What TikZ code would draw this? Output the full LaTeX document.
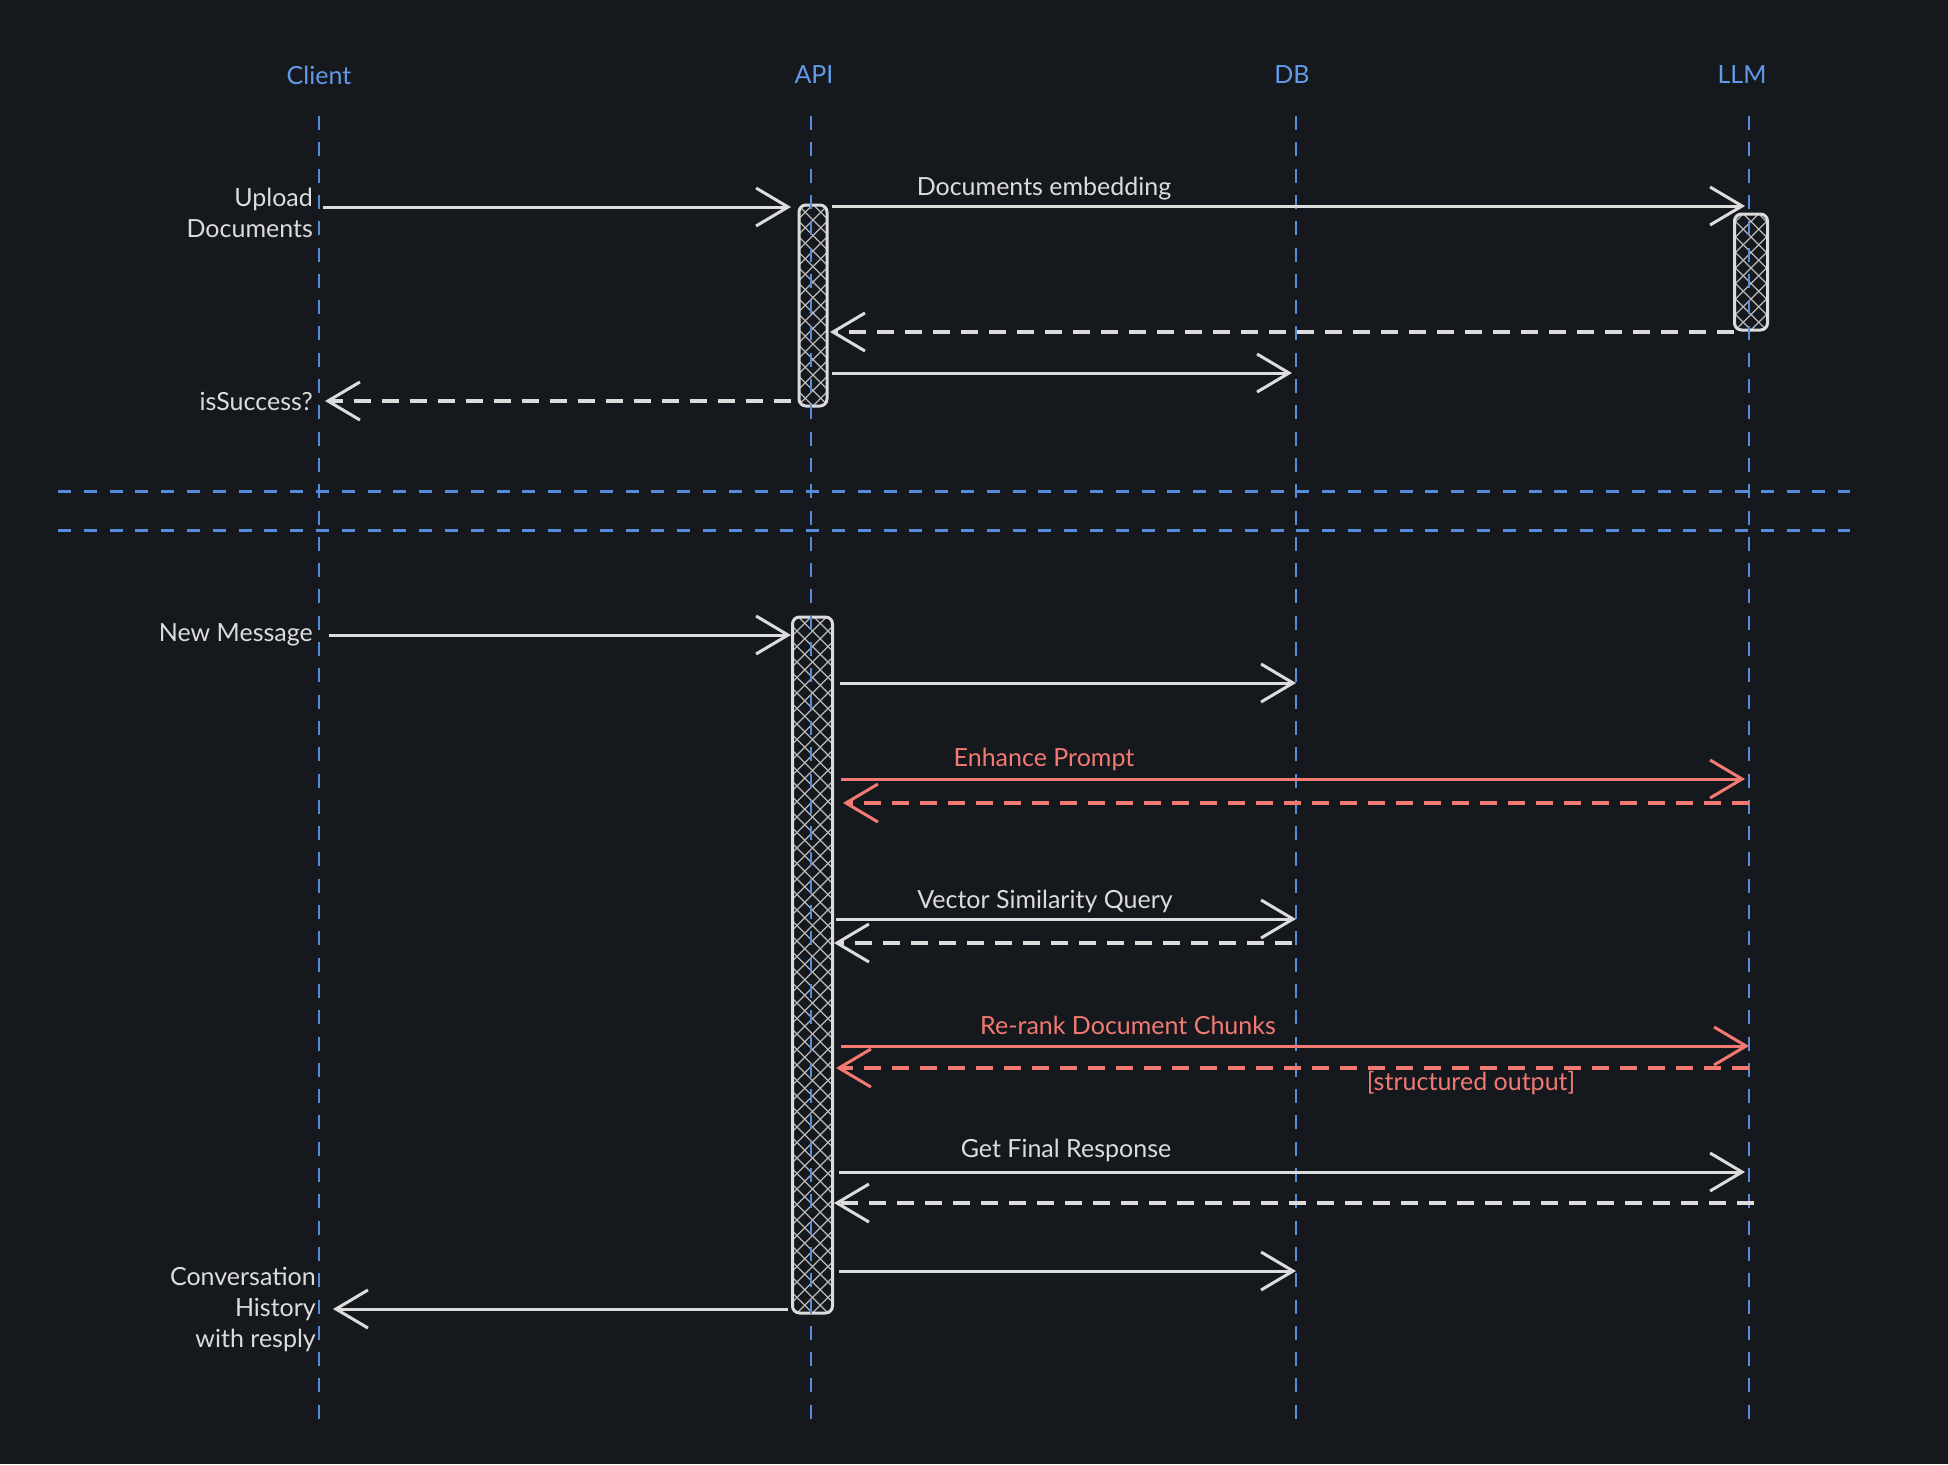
\documentclass[tikz,border=0pt]{standalone}
\usepackage{fontspec}
\setmainfont{Lato}
\usetikzlibrary{arrows.meta}
\definecolor{bg}{RGB}{21,24,29}
\definecolor{lifeblue}{RGB}{86,140,218}
\definecolor{headblue}{RGB}{98,154,232}
\definecolor{ink}{RGB}{220,220,220}
\definecolor{hatchc}{RGB}{185,185,185}
\definecolor{salmon}{RGB}{242,122,114}
\begin{document}
\begin{tikzpicture}[x=1pt,y=-1pt,
  lifeline/.style={draw=lifeblue, line width=2pt, dash pattern=on 14pt off 12.3pt},
  separator/.style={draw=lifeblue, line width=3pt, dash pattern=on 13pt off 12.8pt},
  head/.style={text=headblue, font=\fontsize{25}{28}\selectfont},
  lbl/.style={text=ink, font=\fontsize{25}{31}\selectfont, inner sep=0pt},
  rlbl/.style={lbl, text=salmon},
  msg/.style={draw=ink, line width=3pt, -{Straight Barb[length=32pt,width=38pt,line width=3pt]}},
  reply/.style={msg, line width=4.5pt, dash pattern=on 17pt off 11pt},
  rmsg/.style={msg, draw=salmon},
  rreply/.style={reply, draw=salmon},
  activation/.style={draw=ink, line width=3pt, rounded corners=7pt, inner sep=0pt,
    path picture={
      \foreach \k in {-50,...,50}{
        \draw[hatchc, line width=1.2pt] ([xshift=\k*15.5pt]path picture bounding box.south) -- ++(800pt,800pt);
        \draw[hatchc, line width=1.2pt] ([xshift=\k*15.5pt]path picture bounding box.south) -- ++(-800pt,800pt);
      }}}
]
\path[fill=bg] (0,0) rectangle (1948,1464);
\useasboundingbox (0,0) rectangle (1948,1464);

% headers
\node[head] (client) at (319,75) {Client};
\node[head] (api) at (814,75) {API};
\node[head] (db) at (1292,75) {DB};
\node[head] (llm) at (1742,75) {LLM};

% lifelines
\coordinate (clientEnd) at (319,1419);
\coordinate (apiEnd) at (811,1419);
\coordinate (dbEnd) at (1296,1419);
\coordinate (llmEnd) at (1749,1419);
\coordinate (clientTop) at (319,116);
\coordinate (apiTop) at (811,116);
\coordinate (dbTop) at (1296,116);
\coordinate (llmTop) at (1749,116);

% activation boxes
\node[activation, minimum width=28pt, minimum height=201pt] (act1) at (813,305.5) {};
\node[activation, minimum width=33pt, minimum height=116pt] (act2) at (1751,272) {};
\node[activation, minimum width=40pt, minimum height=696pt] (act3) at (812.5,965) {};

\draw[lifeline] (clientTop) -- (clientEnd);
\draw[lifeline] (apiTop) -- (apiEnd);
\draw[lifeline] (dbTop) -- (dbEnd);
\draw[lifeline] (llmTop) -- (llmEnd);

% separators
\coordinate (s1a) at (58,491); \coordinate (s1b) at (1850,491);
\coordinate (s2a) at (58,530); \coordinate (s2b) at (1850,530);
\draw[separator] (s1a) -- (s1b);
\draw[separator] (s2a) -- (s2b);

% ---- section 1
\coordinate (m1a) at (323,207); \coordinate (m1b) at (791,207);
\draw[msg] (m1a) -- (m1b);
\node[lbl, anchor=east, align=right] (uplbl) at (313,213) {Upload\\Documents};

\coordinate (m2a) at (832,206); \coordinate (m2b) at (1745,206);
\draw[msg] (m2a) -- (m2b);
\node[lbl] (embl) at (1044,189) {Documents embedding};

\coordinate (m3a) at (1734,332); \coordinate (m3b) at (830,332);
\draw[reply] (m3a) -- (m3b);

\coordinate (m4a) at (832,373); \coordinate (m4b) at (1292,373);
\draw[msg] (m4a) -- (m4b);

\coordinate (m5a) at (791,401); \coordinate (m5b) at (325,401);
\draw[reply] (m5a) -- (m5b);
\node[lbl, anchor=east] (succ) at (313,401) {isSuccess?};

% ---- section 2
\coordinate (n1a) at (329,635); \coordinate (n1b) at (791,635);
\draw[msg] (n1a) -- (n1b);
\node[lbl, anchor=east] (newmsg) at (313,635) {New Message};

\coordinate (n2a) at (840,683); \coordinate (n2b) at (1296,683);
\draw[msg] (n2a) -- (n2b);

\coordinate (n3a) at (841,779); \coordinate (n3b) at (1745,779);
\draw[rmsg] (n3a) -- (n3b);
\node[rlbl] (enh) at (1044,759) {Enhance Prompt};
\coordinate (n4a) at (1749,803); \coordinate (n4b) at (843,803);
\draw[rreply] (n4a) -- (n4b);

\coordinate (n5a) at (836,919); \coordinate (n5b) at (1296,919);
\draw[msg] (n5a) -- (n5b);
\node[lbl] (vsq) at (1045,901) {Vector Similarity Query};
\coordinate (n6a) at (1292,943); \coordinate (n6b) at (834,943);
\draw[reply] (n6a) -- (n6b);

\coordinate (n7a) at (841,1046); \coordinate (n7b) at (1749,1046);
\draw[rmsg] (n7a) -- (n7b);
\node[rlbl] (rerank) at (1128,1025) {Re-rank Document Chunks};
\coordinate (n8a) at (1749,1068); \coordinate (n8b) at (836,1068);
\draw[rreply] (n8a) -- (n8b);
\node[rlbl] (struct) at (1471,1083) {[structured output]};

\coordinate (n9a) at (839,1172); \coordinate (n9b) at (1745,1172);
\draw[msg] (n9a) -- (n9b);
\node[lbl] (gfr) at (1066,1150) {Get Final Response};
\coordinate (n10a) at (1754,1203); \coordinate (n10b) at (834,1203);
\draw[reply] (n10a) -- (n10b);

\coordinate (n11a) at (839,1271); \coordinate (n11b) at (1296,1271);
\draw[msg] (n11a) -- (n11b);

\coordinate (n12a) at (788,1309); \coordinate (n12b) at (333,1309);
\draw[msg] (n12a) -- (n12b);
\node[lbl, anchor=east, align=right] (conv) at (316,1309) {Conversation\\History\\with resply};
\end{tikzpicture}
\end{document}
